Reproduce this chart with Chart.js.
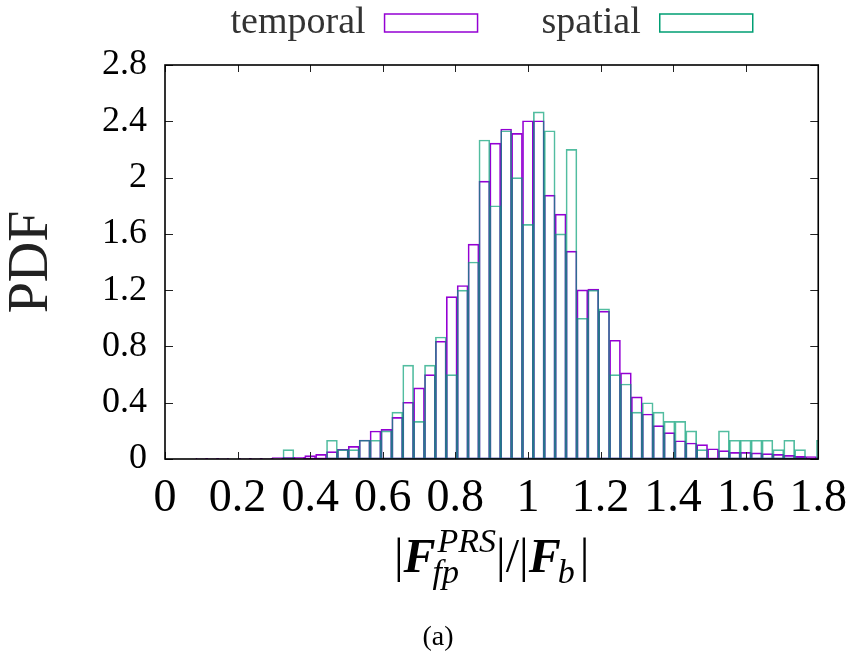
<!DOCTYPE html>
<html>
<head>
<meta charset="utf-8">
<script src="https://cdn.jsdelivr.net/npm/chart.js@4/dist/chart.umd.min.js"></script>
<style>
  html, body { margin: 0; padding: 0; background: #ffffff; }
  #wrap { width: 859px; height: 656px; position: relative; }
</style>
</head>
<body>
<div id="wrap"><canvas id="c" width="859" height="656"></canvas></div>
<script>
// ---------------- data ----------------
const seriesNames = ['temporal', 'spatial'];

// centres of the histogram bins (bin width 0.03)
const binCenters = [
  0.04, 0.07, 0.10, 0.13, 0.16, 0.19, 0.22, 0.25, 0.28, 0.31,
  0.34, 0.37, 0.40, 0.43, 0.46, 0.49, 0.52, 0.55, 0.58, 0.61,
  0.64, 0.67, 0.70, 0.73, 0.76, 0.79, 0.82, 0.85, 0.88, 0.91,
  0.94, 0.97, 1.00, 1.03, 1.06, 1.09, 1.12, 1.15, 1.18, 1.21,
  1.24, 1.27, 1.30, 1.33, 1.36, 1.39, 1.42, 1.45, 1.48, 1.51,
  1.54, 1.57, 1.60, 1.63, 1.66, 1.69, 1.72, 1.75, 1.78, 1.81
];

const temporalPdf = [
  0, 0, 0.005, 0.005, 0.005, 0, 0.005, 0.005, 0.005, 0.010,
  0.012, 0.012, 0.024, 0.033, 0.052, 0.069, 0.090, 0.135, 0.199, 0.211,
  0.296, 0.403, 0.505, 0.600, 0.837, 1.154, 1.233, 1.527, 1.975, 2.245,
  2.345, 2.314, 2.404, 2.404, 1.875, 1.740, 1.477, 1.202, 1.207, 1.050,
  0.844, 0.612, 0.441, 0.320, 0.237, 0.187, 0.130, 0.114, 0.102, 0.073,
  0.059, 0.047, 0.047, 0.043, 0.038, 0.033, 0.026, 0.019, 0.017, 0.010
];

const spatialPdf = [
  0, 0, 0, 0, 0, 0, 0, 0, 0, 0,
  0.067, 0, 0, 0, 0.133, 0.067, 0.067, 0.133, 0.133, 0.200,
  0.333, 0.667, 0.267, 0.667, 0.867, 0.600, 1.200, 1.400, 2.267, 1.800,
  2.333, 2.000, 1.667, 2.467, 2.333, 1.600, 2.200, 1.000, 1.200, 1.067,
  0.600, 0.533, 0.333, 0.400, 0.333, 0.267, 0.267, 0.200, 0.067, 0,
  0.200, 0.133, 0.133, 0.133, 0.133, 0.067, 0.133, 0.067, 0, 0.133
];

const xTickValues = [0, 0.2, 0.4, 0.6, 0.8, 1.0, 1.2, 1.4, 1.6, 1.8];
const xTickLabels = ['0', '0.2', '0.4', '0.6', '0.8', '1', '1.2', '1.4', '1.6', '1.8'];
const yTickValues = [0, 0.4, 0.8, 1.2, 1.6, 2.0, 2.4, 2.8];
const yTickLabels = ['0', '0.4', '0.8', '1.2', '1.6', '2', '2.4', '2.8'];

const yAxisTitle = 'PDF';
const captionText = '(a)';
// x-axis title |F_fp^PRS| / |F_b| split into pieces
const xTitleParts = [
  { text: '|', style: '' },
  { text: 'F', style: 'bold italic ' },
  { sup: 'PRS', sub: 'fp' },
  { text: '|/|', style: '' },
  { text: 'F', style: 'bold italic ' },
  { sub: 'b' },
  { text: '|', style: '' }
];

// ---------------- styling ----------------
const FONT = 'Liberation Serif';
const purple = '#9400D3';
const green = '#009E73';
const greenLine = 'rgba(0,158,115,0.68)';

Chart.defaults.font.family = FONT;
Chart.defaults.color = '#000';

const LEGEND_PAD = 64;
const LEGEND_TOP = 4 - LEGEND_PAD;   // layout padding top (legend box starts above canvas)
const LEGEND_H = 65 - LEGEND_TOP;    // so that the plot frame starts at y=65
const CAPTION_BOX = 35.6;            // 28px * 1.2 + 2
const PLOT_BOTTOM = 459;
const PAD_LEFT = 55;                 // centres the caption under the figure
const PLOT_LEFT = 165;

const framePlugin = {
  id: 'frame',
  beforeUpdate(chart) {
    const lg = chart.legend;
    if (lg && !lg._fitPatched) {
      const orig = lg.fit;
      lg.fit = function () { orig.call(this); this.height = LEGEND_H; };
      lg._fitPatched = true;
    }
  },
  afterDatasetsDraw(chart) {
    const { ctx, chartArea: a, scales: { x, y } } = chart;
    ctx.save();
    ctx.strokeStyle = '#222';
    ctx.lineWidth = 1;
    ctx.beginPath();
    xTickValues.forEach(v => {
      const px = Math.round(x.getPixelForValue(v)) + 0.5;
      ctx.moveTo(px, a.bottom); ctx.lineTo(px, a.bottom - 7);
      ctx.moveTo(px, a.top); ctx.lineTo(px, a.top + 7);
    });
    yTickValues.forEach(v => {
      const py = Math.round(y.getPixelForValue(v)) + 0.5;
      ctx.moveTo(a.left, py); ctx.lineTo(a.left + 8, py);
      ctx.moveTo(a.right, py); ctx.lineTo(a.right - 8, py);
    });
    ctx.stroke();
    ctx.strokeStyle = '#000';
    ctx.lineWidth = 1.6;
    ctx.strokeRect(a.left, a.top, a.right - a.left, a.bottom - a.top);
    ctx.restore();
  },
  afterDraw(chart) {
    // x-axis title with sub/superscripts
    const { ctx, chartArea: a } = chart;
    const mainSize = 48, scriptSize = 34;
    const mainFont = s => s + mainSize + 'px "' + FONT + '"';
    const scriptFont = 'italic ' + scriptSize + 'px "' + FONT + '"';
    ctx.save();
    ctx.fillStyle = '#000';
    ctx.textBaseline = 'alphabetic';
    ctx.textAlign = 'left';
    const widths = xTitleParts.map(p => {
      if (p.text !== undefined) { ctx.font = mainFont(p.style); return ctx.measureText(p.text).width; }
      ctx.font = scriptFont;
      const w1 = p.sup ? ctx.measureText(p.sup).width : 0;
      const w2 = p.sub ? ctx.measureText(p.sub).width : 0;
      return Math.max(w1, w2) + 2;
    });
    const total = widths.reduce((s, w) => s + w, 0);
    let cx = (a.left + a.right) / 2 - total / 2;
    const base = a.bottom + 113;
    xTitleParts.forEach((p, i) => {
      if (p.text !== undefined) {
        ctx.font = mainFont(p.style);
        ctx.fillText(p.text, cx, base);
      } else {
        ctx.font = scriptFont;
        if (p.sup) ctx.fillText(p.sup, cx + 2, base - 20);
        if (p.sub) ctx.fillText(p.sub, cx - 3, base + 11);
      }
      cx += widths[i];
    });
    ctx.restore();
  }
};

const ctx = document.getElementById('c').getContext('2d');
new Chart(ctx, {
  type: 'bar',
  data: {
    datasets: [
      {
        label: seriesNames[0],
        data: binCenters.map((c, i) => ({ x: c, y: temporalPdf[i] })),
        backgroundColor: 'rgba(0,0,0,0)',
        borderColor: purple,
        legendColor: purple,
        borderWidth: 1,
        borderSkipped: false,
        grouped: false,
        barPercentage: 1,
        categoryPercentage: 1,
        order: 1
      },
      {
        label: seriesNames[1],
        data: binCenters.map((c, i) => ({ x: c, y: spatialPdf[i] })),
        backgroundColor: 'rgba(0,0,0,0)',
        borderColor: greenLine,
        legendColor: green,
        borderWidth: 1,
        borderSkipped: false,
        grouped: false,
        barPercentage: 1,
        categoryPercentage: 1,
        order: 0
      }
    ]
  },
  options: {
    responsive: false,
    animation: false,
    devicePixelRatio: 1,
    layout: { padding: { top: LEGEND_TOP, left: PAD_LEFT, right: 38, bottom: 0 } },
    scales: {
      x: {
        type: 'linear',
        min: 0, max: 1.8,
        offset: false,
        grid: { display: false, drawTicks: false, offset: false },
        border: { display: false },
        afterBuildTicks: s => { s.ticks = xTickValues.map(v => ({ value: v })); },
        afterFit: s => { s.height = 656 - PLOT_BOTTOM - CAPTION_BOX; },
        ticks: {
          autoSkip: false, maxRotation: 0, minRotation: 0,
          padding: 12,
          color: '#000',
          font: { family: FONT, size: 46 },
          callback: (v, i) => xTickLabels[i]
        },
        title: { display: false }
      },
      y: {
        min: 0, max: 2.8,
        grid: { display: false, drawTicks: false },
        border: { display: false },
        afterBuildTicks: s => { s.ticks = yTickValues.map(v => ({ value: v })); },
        afterFit: s => { s.width = PLOT_LEFT - PAD_LEFT; },
        ticks: {
          padding: 18,
          color: '#000',
          font: { family: FONT, size: 36 },
          callback: (v, i) => yTickLabels[i]
        },
        title: {
          display: true,
          text: yAxisTitle,
          color: '#222',
          padding: { top: -PAD_LEFT, bottom: 0 },
          font: { family: FONT, size: 56, lineHeight: 1.15 }
        }
      }
    },
    plugins: {
      tooltip: { enabled: false },
      legend: {
        display: true,
        position: 'top',
        fullSize: false,
        rtl: true,
        reverse: true,
        labels: {
          font: { family: FONT, size: 38 },
          color: '#333',
          boxWidth: 93,
          boxHeight: 18,
          padding: LEGEND_PAD,
          generateLabels: chart => chart.data.datasets.map((d, i) => ({
            text: d.label,
            fillStyle: 'rgba(0,0,0,0)',
            strokeStyle: d.legendColor,
            lineWidth: 1.5,
            fontColor: '#333',
            hidden: false,
            datasetIndex: i
          }))
        }
      },
      title: {
        display: true,
        position: 'bottom',
        text: captionText,
        color: '#000',
        padding: { top: 0, bottom: 2 },
        font: { family: FONT, size: 28, weight: 'normal', lineHeight: 1.2 }
      }
    }
  },
  plugins: [framePlugin]
});
</script>
</body>
</html>
